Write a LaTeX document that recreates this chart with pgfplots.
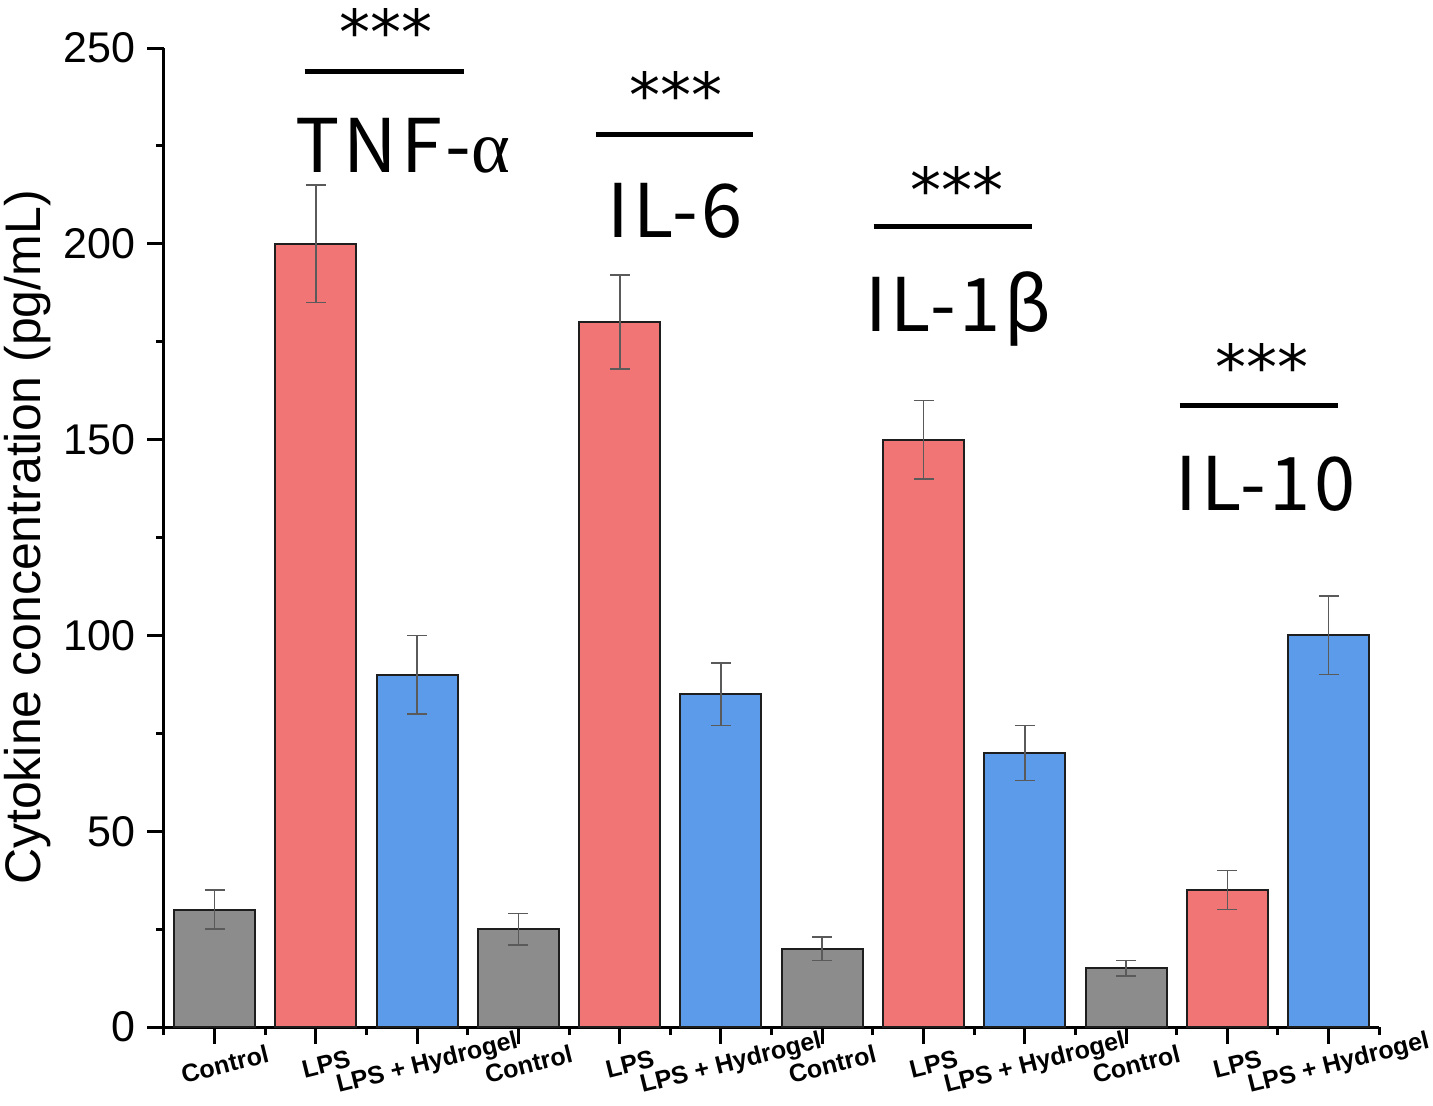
\documentclass[border=0pt]{standalone}
\usepackage{pgfplots}
\pgfplotsset{compat=1.18}
\usepackage{fontspec}
\setmainfont{Liberation Sans}
\newfontfamily\cjk[LetterSpace=5]{Noto Sans CJK SC}
\newfontfamily\grk{Liberation Serif}
\newfontfamily\stars{DejaVu Sans}

\definecolor{barred}{HTML}{F27576}
\definecolor{barblue}{HTML}{5B9BE9}
\definecolor{bargray}{HTML}{8C8C8C}
\definecolor{edgecol}{HTML}{1E1E1E}
\definecolor{errcol}{HTML}{5A5A5A}

% x, mean, sd
\pgfplotstableread{
x y e
0 30 5
3 25 4
6 20 3
9 15 2
}\ctrl
\pgfplotstableread{
x y e
1 200 15
4 180 12
7 150 10
10 35 5
}\lps
\pgfplotstableread{
x y e
2 90 10
5 85 8
8 70 7
11 100 10
}\hydro

\tikzset{
  sig/.style={font=\fontsize{31}{31}\selectfont\stars, anchor=base, inner sep=0pt},
  cyto/.style={font=\fontsize{37}{37}\selectfont\cjk, anchor=base, inner sep=0pt},
}

\begin{document}
\begin{tikzpicture}
\begin{axis}[
  scale only axis,
  width=607.6pt, height=489.5pt,
  xmin=-0.5, xmax=11.5,
  ymin=0, ymax=250,
  clip=false,
  axis x line*=bottom, axis y line*=left,
  axis line style={line width=1.5pt, -},
  tick align=outside,
  major tick length=8.5pt, minor tick length=4pt,
  every tick/.style={line width=1.5pt, black},
  xtick={0,...,11},
  minor xtick={-0.5,0.5,...,11.5},
  xticklabels={Control,LPS,LPS + Hydrogel,Control,LPS,LPS + Hydrogel,Control,LPS,LPS + Hydrogel,Control,LPS,LPS + Hydrogel},
  xticklabel style={font=\fontsize{12.5}{12.5}\selectfont\bfseries, rotate=14, anchor=center, yshift=-11pt, xshift=2.5pt},
  ytick={0,50,...,250},
  minor ytick={25,75,...,225},
  yticklabel style={font=\fontsize{21.5}{21.5}\selectfont, xshift=-2.5pt, /pgf/number format/assume math mode=true},
  ylabel={Cytokine concentration (pg/mL)},
  ylabel style={font=\fontsize{25}{25}\selectfont, at={(axis description cs:0,0.5)}, anchor=center, yshift=68pt},
  ybar, bar width=0.8, bar shift=0pt,
  error bars/y dir=both, error bars/y explicit,
  error bars/error bar style={errcol, line width=0.8pt},
  error bars/error mark options={rotate=90, mark size=5pt, errcol, line width=0.8pt},
]
\addplot[fill=bargray, draw=edgecol, line width=1pt] table[x=x, y=y, y error=e] {\ctrl};
\addplot[fill=barred, draw=edgecol, line width=1pt] table[x=x, y=y, y error=e] {\lps};
\addplot[fill=barblue, draw=edgecol, line width=1pt] table[x=x, y=y, y error=e] {\hydro};

% significance brackets and cytokine names
\draw[line width=2.5pt] (axis cs:0.888,244.1) -- (axis cs:2.463,244.1);
\draw[line width=2.5pt] (axis cs:3.762,228.0) -- (axis cs:5.317,228.0);
\draw[line width=2.5pt] (axis cs:6.508,204.3) -- (axis cs:8.073,204.3);
\draw[line width=2.5pt] (axis cs:9.530,158.6) -- (axis cs:11.090,158.6);

\node[sig] at (axis cs:1.69,248.3) {***};
\node[sig] at (axis cs:4.56,232.3) {***};
\node[sig] at (axis cs:7.33,208.0) {***};
\node[sig] at (axis cs:10.34,162.8) {***};

\node[cyto] at (axis cs:1.86,218.3) {TNF-{\grk α}};
\node[cyto] at (axis cs:4.55,201.7) {IL-6};
\node[cyto] at (axis cs:7.34,177.5) {IL-1β};
\node[cyto] at (axis cs:10.38,132.0) {IL-10};
\end{axis}
\pgfresetboundingbox
\path[use as bounding box] (-82pt,-39pt) rectangle (634.5pt,513.5pt);
\end{tikzpicture}
\end{document}
